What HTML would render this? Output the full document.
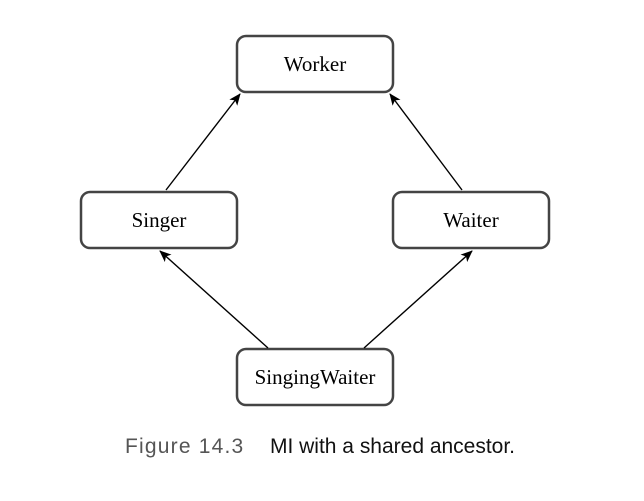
<!DOCTYPE html>
<html><head><style>
body{margin:0;background:#fff;width:644px;height:496px;overflow:hidden}
</style></head><body>
<svg width="644" height="496" xmlns="http://www.w3.org/2000/svg">
<defs><marker id="a" markerWidth="12" markerHeight="10" refX="11" refY="5" orient="auto" markerUnits="userSpaceOnUse"><path d="M0,0 L12,5 L0,10 L3,5 Z" fill="#000"/></marker></defs>
<g fill="#fff" stroke="#444" stroke-width="2.5">
<rect x="237" y="36" width="156" height="56" rx="9"/>
<rect x="81" y="192" width="156" height="56" rx="9"/>
<rect x="393" y="192" width="156" height="56" rx="9"/>
<rect x="237" y="349" width="156" height="56" rx="9"/>
</g>
<g stroke="#000" stroke-width="1.4" marker-end="url(#a)">
<line x1="166" y1="190" x2="240" y2="94"/>
<line x1="462" y1="190" x2="390" y2="94"/>
<line x1="268" y1="348" x2="160" y2="251"/>
<line x1="364" y1="348" x2="472" y2="251"/>
</g>
<g font-family="Liberation Serif, serif" font-size="21" text-anchor="middle" fill="#000">
<text x="315" y="71">Worker</text>
<text x="159" y="227">Singer</text>
<text x="471" y="227">Waiter</text>
<text x="315" y="384">SingingWaiter</text>
</g>
<text x="125" y="453" font-family="Liberation Sans, sans-serif" font-size="21" letter-spacing="1.2" fill="#555">Figure 14.3</text>
<text x="270" y="453" font-family="Liberation Sans, sans-serif" font-size="21" fill="#111" textLength="245">MI with a shared ancestor.</text>
</svg>
</body></html>
